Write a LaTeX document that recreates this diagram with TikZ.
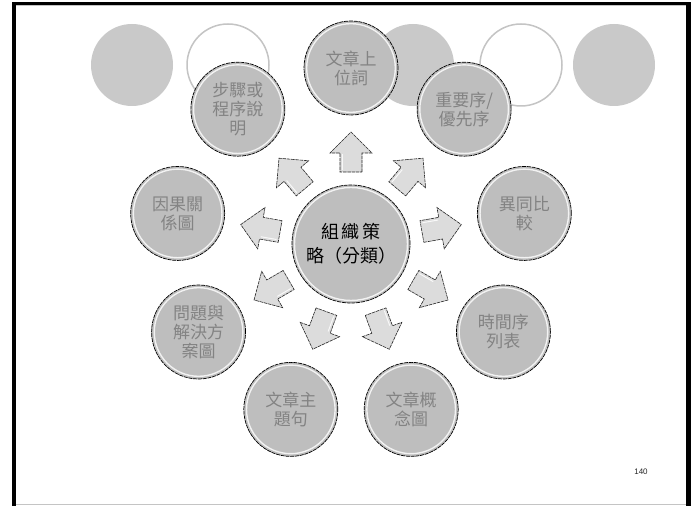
\documentclass[tikz,border=0pt]{standalone}
\usepackage{fontspec}
\newfontfamily\cjk{Noto Sans CJK TC}
\newfontfamily\pnfont{Liberation Sans}
\usetikzlibrary{calc}
\definecolor{cfill}{HTML}{BEBEBE}
\definecolor{bgfill}{HTML}{C9C9C9}
\definecolor{ctext}{HTML}{838383}
\definecolor{afill}{HTML}{DCDCDC}
\definecolor{framegray}{HTML}{C4C4C4}
\tikzset{
  ringc/.style={circle, minimum size=94pt, inner sep=0pt, fill=cfill,
    draw=black, line width=0.7pt, dash pattern=on 4pt off 0.8pt,
    text=ctext, align=center, font=\cjk\fontsize{17}{19}\selectfont,
    path picture={\draw[white, line width=1.4pt, opacity=0.8, solid]
      (path picture bounding box.center) circle (44.3pt);}},
  hubc/.style={circle, minimum size=118pt, inner sep=0pt, fill=cfill,
    draw=black, line width=0.7pt, dash pattern=on 4pt off 0.8pt,
    text=black, align=center, font=\cjk\fontsize{18}{24}\selectfont,
    path picture={\draw[white, line width=1.4pt, opacity=0.8, solid]
      (path picture bounding box.center) circle (56.5pt);}},
  blockarrow/.style={fill=afill, draw=black!85, line width=0.6pt,
    dash pattern=on 3.5pt off 0.8pt, line join=miter},
  bgdisc/.style={fill=bgfill},
  bgring/.style={draw=framegray, line width=1.5pt}
}
\begin{document}
\begin{tikzpicture}[x=1pt,y=1pt]
\useasboundingbox (0,0) rectangle (697,506);
\fill[white] (0,0) rectangle (697,506);
% frame
\fill[black] (12,0) rectangle (16,504);
\fill[black] (12,501) rectangle (691,504);
\fill[black] (686,0) rectangle (691,504);
\draw[framegray, line width=1pt] (16,500.3) -- (686,500.3);
\draw[framegray, line width=1pt] (16,1) -- (686,1);
% background circles
\fill[bgdisc] (132,441) circle (41);
\draw[bgring] (228,441) circle (41);
\fill[bgdisc] (413,441) circle (41);
\draw[bgring] (521,441) circle (41);
\fill[bgdisc] (614,441) circle (41);
% hub
\coordinate (C) at (351,262);
% arrows
\foreach \a in {90,50,10,-30,-70,-110,-150,170,130} {
  \begin{scope}[shift={(C)}, rotate=\a]
    \path[blockarrow] (72,-11) -- (91,-11) -- (91,-21) -- (112,0) -- (91,21) -- (91,11) -- (72,11) -- cycle;
    \draw[white, line width=1pt, opacity=0.8] (74,8.5) -- (90,8.5);
  \end{scope}
}
\node[hubc] (hub) at (C) {組\hspace{3pt}織\hspace{3pt}策\\略（分類）};
\node[ringc] (n1) at ($(C)+(90:176pt)$) {文章上\\位詞};
\node[ringc] (n2) at ($(C)+(50:176pt)$) {重要序/\\優先序};
\node[ringc] (n3) at ($(C)+(10:176pt)$) {異同比\\較};
\node[ringc] (n4) at ($(C)+(-30:176pt)$) {時間序\\列表};
\node[ringc] (n5) at ($(C)+(-70:176pt)$) {文章概\\念圖};
\node[ringc] (n6) at ($(C)+(-110:176pt)$) {文章主\\題句};
\node[ringc] (n7) at ($(C)+(-150:176pt)$) {問題與\\解決方\\案圖};
\node[ringc] (n8) at ($(C)+(170:176pt)$) {因果關\\係圖};
\node[ringc] (n9) at ($(C)+(130:176pt)$) {步驟或\\程序說\\明};
\node[font=\pnfont\fontsize{8}{9}\selectfont, text=black!85] (pg) at (641,34) {140};
\end{tikzpicture}
\end{document}
